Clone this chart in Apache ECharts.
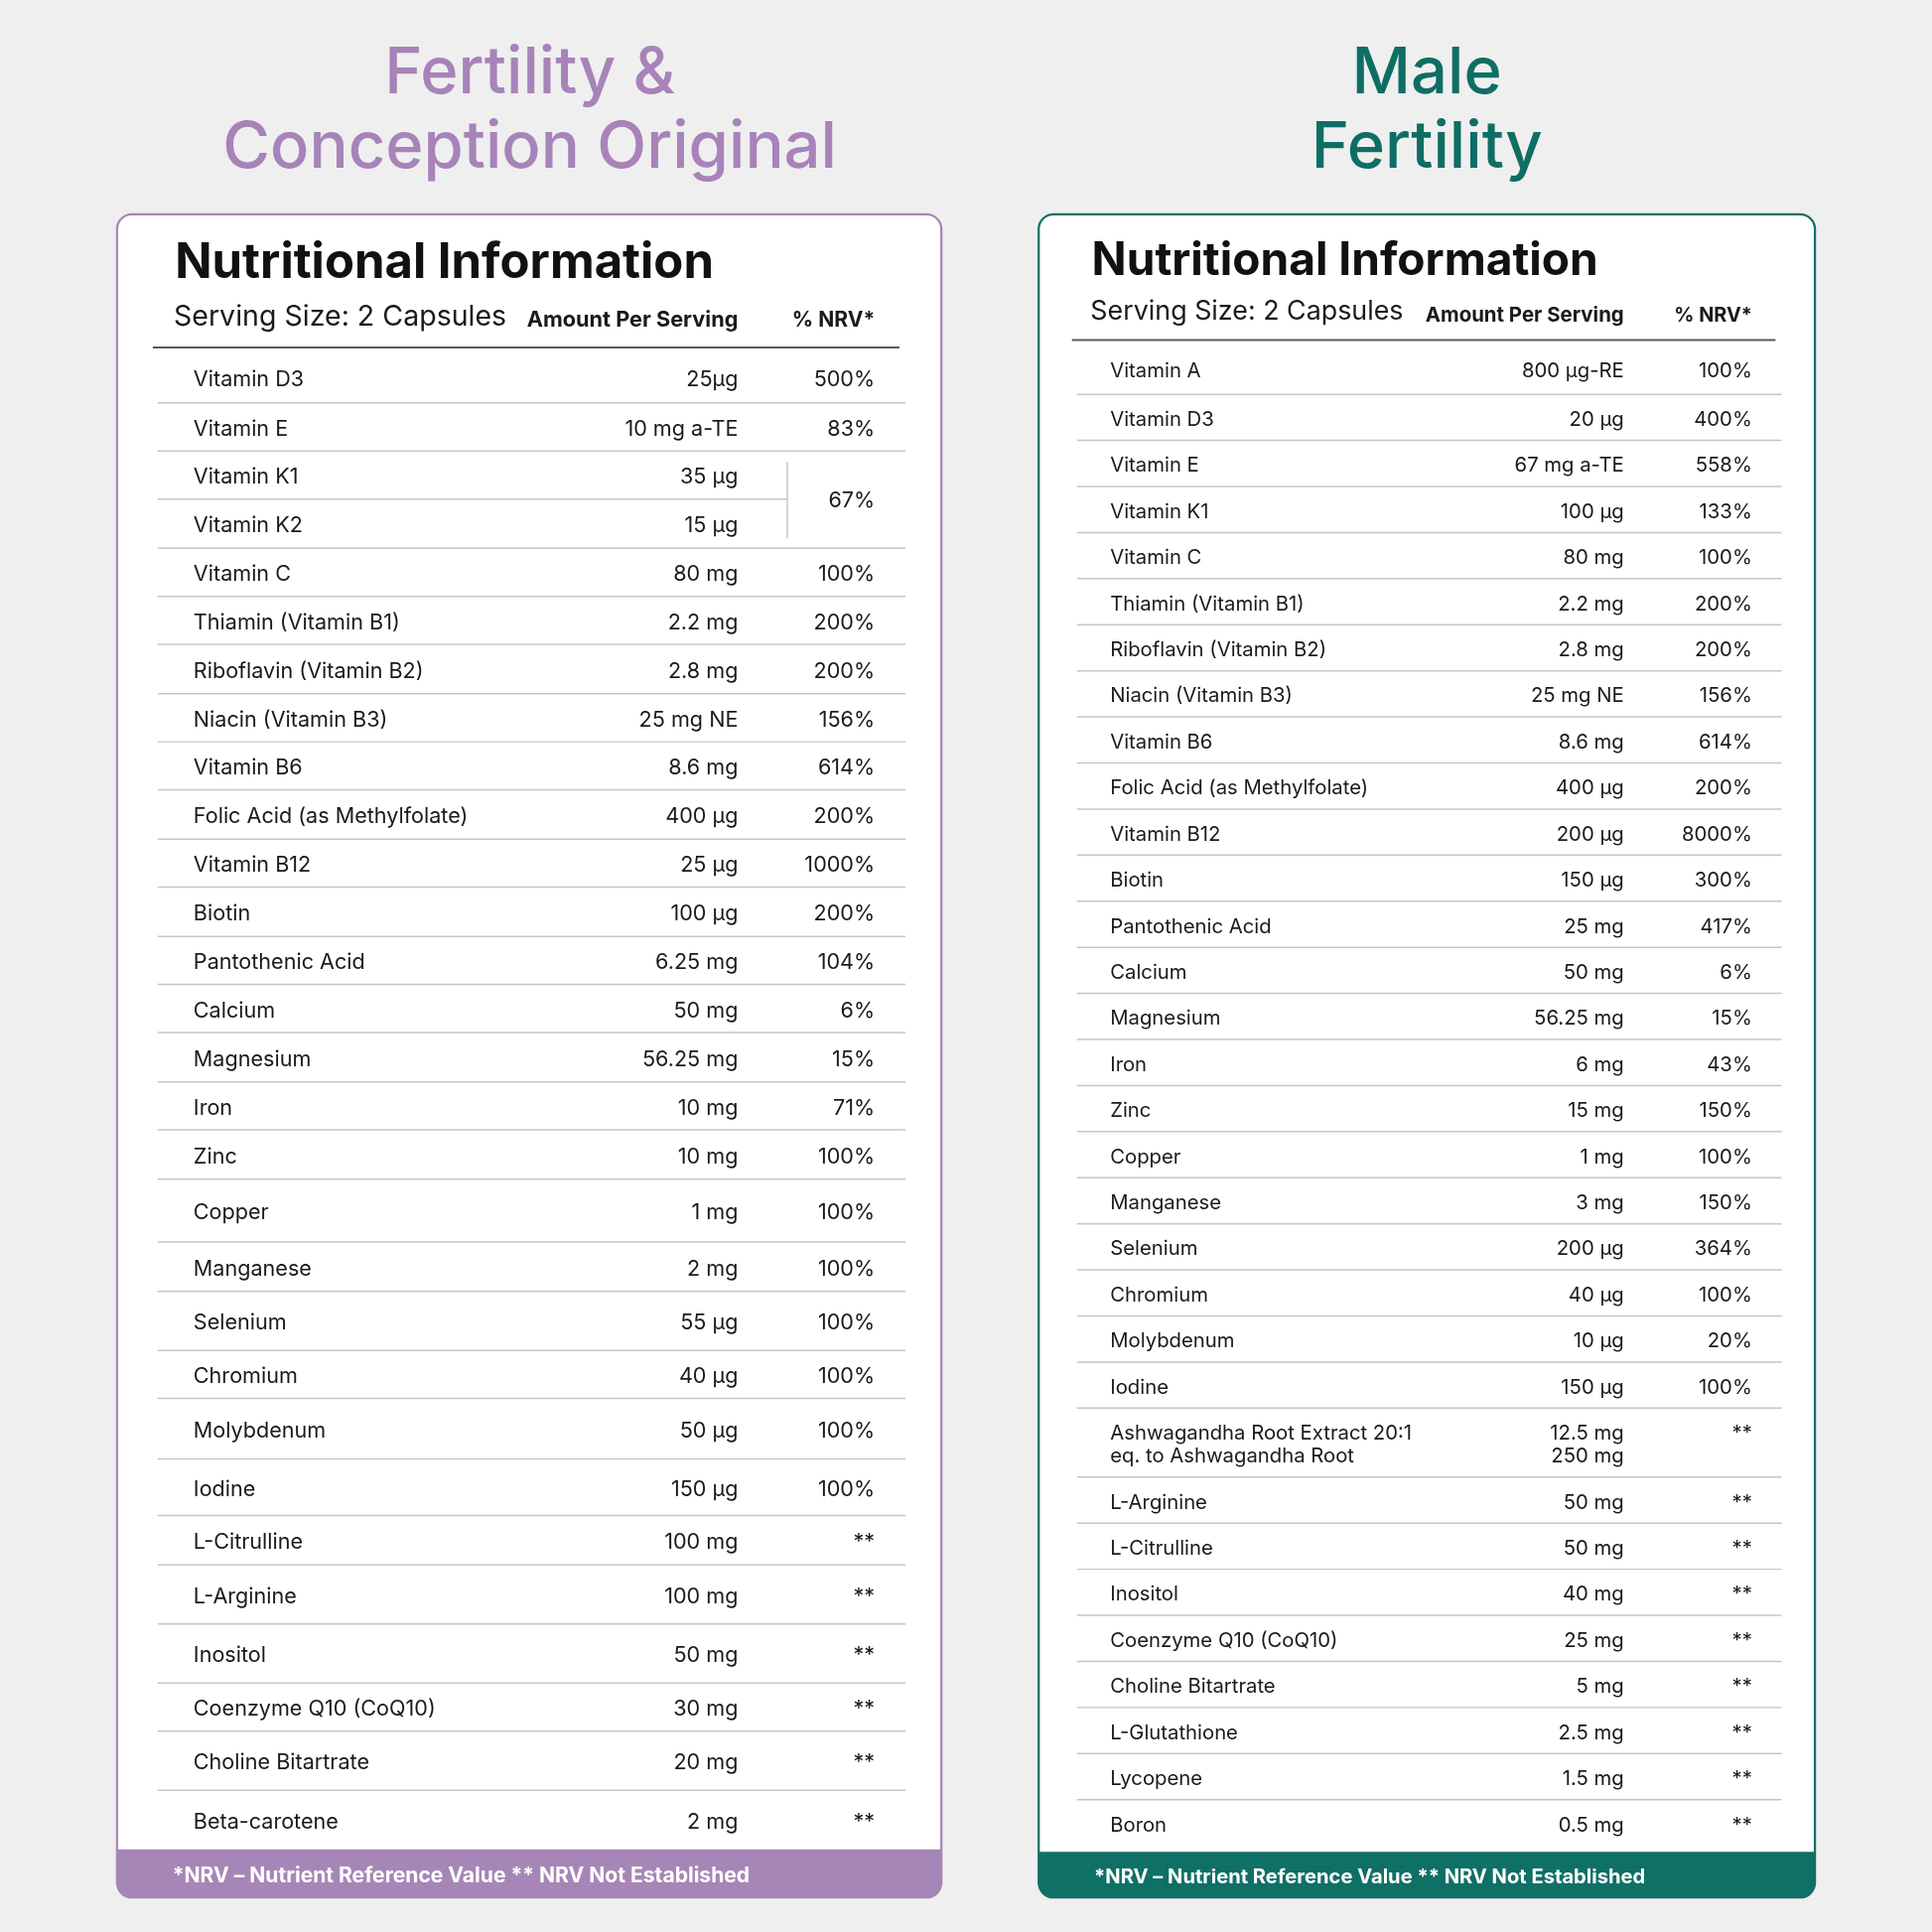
<!DOCTYPE html>
<html>
<head>
<meta charset="utf-8">
<script src="https://cdn.jsdelivr.net/npm/echarts@6/dist/echarts.min.js"></script>
<style>
  html, body { margin: 0; padding: 0; background: #efefef; }
  #chart { width: 1946px; height: 1946px; }
</style>
</head>
<body>
<div id="chart"></div>
<script>
// ---- data ----
var leftTitle = ['Fertility &', 'Conception Original'];
var rightTitle = ['Male', 'Fertility'];

var leftNames = ['Vitamin D3', 'Vitamin E', 'Vitamin K1', 'Vitamin K2', 'Vitamin C',
  'Thiamin (Vitamin B1)', 'Riboflavin (Vitamin B2)', 'Niacin (Vitamin B3)', 'Vitamin B6',
  'Folic Acid (as Methylfolate)', 'Vitamin B12', 'Biotin', 'Pantothenic Acid', 'Calcium',
  'Magnesium', 'Iron', 'Zinc', 'Copper', 'Manganese', 'Selenium', 'Chromium', 'Molybdenum',
  'Iodine', 'L-Citrulline', 'L-Arginine', 'Inositol', 'Coenzyme Q10 (CoQ10)',
  'Choline Bitartrate', 'Beta-carotene'];
var leftAmounts = ['25µg', '10 mg a-TE', '35 µg', '15 µg', '80 mg', '2.2 mg', '2.8 mg',
  '25 mg NE', '8.6 mg', '400 µg', '25 µg', '100 µg', '6.25 mg', '50 mg', '56.25 mg', '10 mg',
  '10 mg', '1 mg', '2 mg', '55 µg', '40 µg', '50 µg', '150 µg', '100 mg', '100 mg', '50 mg',
  '30 mg', '20 mg', '2 mg'];
var leftNrvs = ['500%', '83%', '67%', '', '100%', '200%', '200%', '156%', '614%', '200%',
  '1000%', '200%', '104%', '6%', '15%', '71%', '100%', '100%', '100%', '100%', '100%', '100%',
  '100%', '**', '**', '**', '**', '**', '**'];
// K1 + K2 share one NRV cell
var leftMerged = { 2: 2 };

var rightNames = ['Vitamin A', 'Vitamin D3', 'Vitamin E', 'Vitamin K1', 'Vitamin C',
  'Thiamin (Vitamin B1)', 'Riboflavin (Vitamin B2)', 'Niacin (Vitamin B3)', 'Vitamin B6',
  'Folic Acid (as Methylfolate)', 'Vitamin B12', 'Biotin', 'Pantothenic Acid', 'Calcium',
  'Magnesium', 'Iron', 'Zinc', 'Copper', 'Manganese', 'Selenium', 'Chromium', 'Molybdenum',
  'Iodine', 'Ashwagandha Root Extract 20:1\neq. to Ashwagandha Root', 'L-Arginine',
  'L-Citrulline', 'Inositol', 'Coenzyme Q10 (CoQ10)', 'Choline Bitartrate', 'L-Glutathione',
  'Lycopene', 'Boron'];
var rightAmounts = ['800 µg-RE', '20 µg', '67 mg a-TE', '100 µg', '80 mg', '2.2 mg', '2.8 mg',
  '25 mg NE', '8.6 mg', '400 µg', '200 µg', '150 µg', '25 mg', '50 mg', '56.25 mg', '6 mg',
  '15 mg', '1 mg', '3 mg', '200 µg', '40 µg', '10 µg', '150 µg', '12.5 mg\n250 mg', '50 mg',
  '50 mg', '40 mg', '25 mg', '5 mg', '2.5 mg', '1.5 mg', '0.5 mg'];
var rightNrvs = ['100%', '400%', '558%', '133%', '100%', '200%', '200%', '156%', '614%', '200%',
  '8000%', '300%', '417%', '6%', '15%', '43%', '150%', '100%', '150%', '364%', '100%', '20%',
  '100%', '**', '**', '**', '**', '**', '**', '**', '**', '**'];

// ---- layout (reference px, scaled by K) ----
var K = 1946 / 1568;
function s(v) { return v * K; }
var leftRowHeights = [45, 39, 39, 40, 39, 39, 40, 39, 39, 40, 39, 40, 39, 39, 40, 39, 40,
  51, 40, 48, 39, 49, 46, 40, 48, 48, 39, 48, 48];
var rightRowHeights = [44];
for (var r = 1; r < 23; r++) rightRowHeights.push(37.4);
rightRowHeights.push(56);
for (var r2 = 0; r2 < 8; r2++) rightRowHeights.push(37.4);

var FONT = 'Inter, "Noto Sans", sans-serif';
var purple = '#a686b6', teal = '#0f7065';

function cumulative(h) {
  var out = [], acc = 0;
  h.forEach(function (v) { out.push([acc, acc + v]); acc += v; });
  return out;
}
var leftBounds = cumulative(leftRowHeights);
var rightBounds = cumulative(rightRowHeights);

var panels = [
  { names: leftNames, amounts: leftAmounts, nrvs: leftNrvs, bounds: leftBounds, merged: leftMerged,
    x0: 128, x1: 735, nameX: 157, amtX: 599, nrvX: 710, splitX: 639, top: 282, fs: 1 },
  { names: rightNames, amounts: rightAmounts, nrvs: rightNrvs, bounds: rightBounds, merged: {},
    x0: 874, x1: 1446, nameX: 901, amtX: 1318, nrvX: 1422, splitX: 0, top: 276, fs: 0.94 }
];

function txt(str, x, y, align, size) {
  return { type: 'text', silent: true,
    style: { text: str, x: x, y: y, align: align, verticalAlign: 'middle', fill: '#1a1a1a',
      fontFamily: FONT, fontSize: size, lineHeight: s(19) } };
}

function renderRow(params, api) {
  var p = panels[params.seriesIndex];
  var i = api.value(0), top = api.value(1), bot = api.value(2);
  var last = p.names.length - 1;
  var size = s(17.4 * p.fs);
  var mid = api.coord([p.x0, (top + bot) / 2])[1] + s(i === 0 ? 3.5 : 2);
  var lh = s(19);
  var lines = p.names[i].split('\n').length;
  var children = [];
  if (i < last) {
    var endX = p.merged[i] ? p.splitX : p.x1;
    var a = api.coord([p.x0, bot]), b = api.coord([endX, bot]);
    children.push({ type: 'line', shape: { x1: a[0], y1: a[1], x2: b[0], y2: b[1] },
      style: { stroke: '#c6c6c6', lineWidth: s(1.2) }, silent: true });
  }
  children.push(txt(p.names[i], api.coord([p.nameX, 0])[0], mid, 'left', size));
  children.push(txt(p.amounts[i], api.coord([p.amtX, 0])[0], mid, 'right', size));
  var nrvX = api.coord([p.nrvX, 0])[0];
  if (p.merged[i]) {
    var endRow = p.bounds[i + p.merged[i] - 1];
    var my = api.coord([p.x0, (top + endRow[1]) / 2])[1] + s(1);
    children.push(txt(p.nrvs[i], nrvX, my, 'right', size));
    var v1 = api.coord([p.splitX, top + 9]), v2 = api.coord([p.splitX, endRow[1] - 8]);
    children.push({ type: 'line', shape: { x1: v1[0], y1: v1[1], x2: v2[0], y2: v2[1] },
      style: { stroke: '#c6c6c6', lineWidth: s(1.2) }, silent: true });
  } else if (p.nrvs[i]) {
    children.push(txt(p.nrvs[i], nrvX, mid - (lines - 1) * lh / 2, 'right', size));
  }
  return { type: 'group', children: children };
}

function rowData(p) {
  return p.bounds.map(function (b, i) { return [i, b[0], b[1]]; });
}

function box(x, y, w, h, color, footY, footText, fs) {
  return [
    { type: 'rect', shape: { x: s(x), y: s(y), width: s(w), height: s(h), r: s(12) },
      style: { fill: '#ffffff', stroke: color, lineWidth: s(1.8) }, z: 0 },
    { type: 'rect', shape: { x: s(x), y: s(footY), width: s(w), height: s(y + h - footY), r: [0, 0, s(12), s(12)] },
      style: { fill: color }, z: 1 },
    { type: 'text', x: s(x + 45), y: s((footY + y + h) / 2 + 2), z: 2,
      style: { text: footText, fill: '#ffffff', fontFamily: FONT, fontWeight: 'bold', fontSize: s(17 * fs),
        verticalAlign: 'middle' } }
  ];
}

function header(p, titleY, servY) {
  var f = p.fs;
  return [
    { type: 'text', x: s(p.nameX - 15), y: s(titleY), z: 2,
      style: { text: 'Nutritional Information', fill: '#111111', fontFamily: FONT, fontWeight: 'bold',
        fontSize: s(39.5 * f), verticalAlign: 'middle' } },
    { type: 'text', x: s(p.nameX - 16), y: s(servY), z: 2,
      style: { text: 'Serving Size: 2 Capsules', fill: '#1a1a1a', fontFamily: FONT, fontSize: s(23 * f),
        verticalAlign: 'middle' } },
    { type: 'text', x: s(p.amtX), y: s(servY + 3), z: 2,
      style: { text: 'Amount Per Serving', fill: '#1a1a1a', fontFamily: FONT, fontWeight: 'bold',
        fontSize: s(17.5 * f), align: 'right', verticalAlign: 'middle' } },
    { type: 'text', x: s(p.nrvX), y: s(servY + 3), z: 2,
      style: { text: '% NRV*', fill: '#1a1a1a', fontFamily: FONT, fontWeight: 'bold',
        fontSize: s(17 * f), align: 'right', verticalAlign: 'middle' } },
    { type: 'line', z: 2, shape: { x1: s(p.x0 - 4), y1: s(p.top), x2: s(p.x1 - 5), y2: s(p.top) },
      style: { stroke: '#5a5a5a', lineWidth: s(1.5) } }
  ];
}

function bigTitle(lines, cx, color) {
  return lines.map(function (t, i) {
    return { type: 'text', x: s(cx), y: s(60 + i * 60), z: 2,
      style: { text: t, fill: color, fontFamily: FONT, fontWeight: 500, fontSize: s(52.5),
        align: 'center', verticalAlign: 'middle' } };
  });
}

var footNote = '*NRV – Nutrient Reference Value ** NRV Not Established';
var graphics = []
  .concat(box(95, 174, 669, 1366, purple, 1501, footNote, 1))
  .concat(box(843, 174, 630, 1366, teal, 1503, footNote, 0.955))
  .concat(bigTitle(leftTitle, 430, '#a783b9'))
  .concat(bigTitle(rightTitle, 1158, '#0e6e64'))
  .concat(header(panels[0], 214, 257))
  .concat(header(panels[1], 212, 253));

function sum(a) { return a.reduce(function (x, y) { return x + y; }, 0); }

var chart = echarts.init(document.getElementById('chart'));
var option = {
  backgroundColor: '#efefef',
  animation: false,
  graphic: { elements: graphics },
  grid: [
    { left: s(128), width: s(735 - 128), top: s(282), height: s(sum(leftRowHeights)) },
    { left: s(874), width: s(1446 - 874), top: s(276), height: s(sum(rightRowHeights)) }
  ],
  xAxis: [
    { type: 'value', gridIndex: 0, min: 128, max: 735, show: false },
    { type: 'value', gridIndex: 1, min: 874, max: 1446, show: false }
  ],
  yAxis: [
    { type: 'value', gridIndex: 0, min: 0, max: sum(leftRowHeights), inverse: true, show: false },
    { type: 'value', gridIndex: 1, min: 0, max: sum(rightRowHeights), inverse: true, show: false }
  ],
  series: [
    { type: 'custom', xAxisIndex: 0, yAxisIndex: 0, clip: false, z: 5,
      encode: { x: -1, y: 1 }, renderItem: renderRow, data: rowData(panels[0]) },
    { type: 'custom', xAxisIndex: 1, yAxisIndex: 1, clip: false, z: 5,
      encode: { x: -1, y: 1 }, renderItem: renderRow, data: rowData(panels[1]) }
  ]
};
chart.setOption(option);
</script>
</body>
</html>
